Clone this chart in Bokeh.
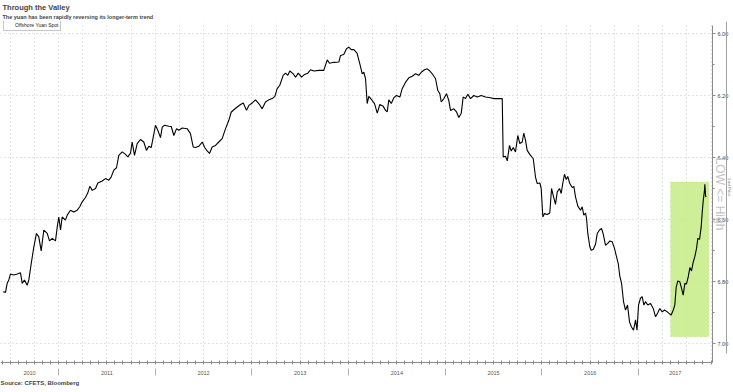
from bokeh.plotting import figure
from bokeh.models import (Range1d, FixedTicker, LinearAxis, Legend, LegendItem, Title,
                          BoxAnnotation, ColumnDataSource, NumeralTickFormatter)
from bokeh.embed import file_html
from bokeh.resources import INLINE

# ---------------- data (decimal year, CNH per USD) ----------------
years = [2010.428, 2010.452, 2010.469, 2010.486, 2010.503, 2010.538, 2010.573, 2010.607, 2010.625, 2010.648,
         2010.676, 2010.693, 2010.718, 2010.745, 2010.772, 2010.796, 2010.821, 2010.848, 2010.883, 2010.907,
         2010.935, 2010.969, 2010.987, 2011.003, 2011.021, 2011.038, 2011.072, 2011.090, 2011.124, 2011.158,
         2011.193, 2011.220, 2011.245, 2011.279, 2011.303, 2011.324, 2011.349, 2011.383, 2011.407, 2011.452,
         2011.486, 2011.520, 2011.543, 2011.572, 2011.600, 2011.624, 2011.659, 2011.693, 2011.717, 2011.745,
         2011.762, 2011.786, 2011.814, 2011.848, 2011.882, 2011.910, 2011.934, 2011.959, 2011.980, 2012.003,
         2012.027, 2012.055, 2012.073, 2012.097, 2012.141, 2012.166, 2012.193, 2012.221, 2012.244, 2012.280,
         2012.331, 2012.365, 2012.393, 2012.417, 2012.451, 2012.487, 2012.513, 2012.538, 2012.562, 2012.590,
         2012.624, 2012.658, 2012.693, 2012.728, 2012.762, 2012.786, 2012.813, 2012.849, 2012.883, 2012.911,
         2012.945, 2012.969, 2013.004, 2013.038, 2013.072, 2013.107, 2013.141, 2013.175, 2013.211, 2013.238,
         2013.262, 2013.289, 2013.324, 2013.348, 2013.372, 2013.393, 2013.428, 2013.452, 2013.480, 2013.514,
         2013.545, 2013.579, 2013.607, 2013.641, 2013.693, 2013.744, 2013.780, 2013.803, 2013.848, 2013.900,
         2013.917, 2013.951, 2013.979, 2014.003, 2014.028, 2014.055, 2014.088, 2014.117, 2014.142, 2014.158,
         2014.176, 2014.193, 2014.210, 2014.245, 2014.269, 2014.297, 2014.324, 2014.359, 2014.383, 2014.400,
         2014.417, 2014.442, 2014.469, 2014.496, 2014.531, 2014.555, 2014.590, 2014.624, 2014.659, 2014.693,
         2014.727, 2014.752, 2014.786, 2014.814, 2014.841, 2014.866, 2014.900, 2014.924, 2014.944, 2014.959,
         2014.986, 2015.014, 2015.037, 2015.055, 2015.089, 2015.117, 2015.141, 2015.166, 2015.186, 2015.210,
         2015.234, 2015.262, 2015.296, 2015.331, 2015.373, 2015.417, 2015.469, 2015.503, 2015.590, 2015.600,
         2015.624, 2015.642, 2015.665, 2015.683, 2015.704, 2015.727, 2015.751, 2015.772, 2015.797, 2015.813,
         2015.831, 2015.848, 2015.875, 2015.911, 2015.934, 2015.952, 2015.979, 2015.993, 2016.010, 2016.027,
         2016.055, 2016.082, 2016.100, 2016.117, 2016.141, 2016.159, 2016.183, 2016.200, 2016.217, 2016.234,
         2016.252, 2016.268, 2016.286, 2016.314, 2016.331, 2016.348, 2016.372, 2016.400, 2016.417, 2016.434,
         2016.452, 2016.462, 2016.475, 2016.496, 2016.510, 2016.531, 2016.555, 2016.573, 2016.596, 2016.617,
         2016.635, 2016.658, 2016.682, 2016.703, 2016.728, 2016.751, 2016.772, 2016.790, 2016.806, 2016.824,
         2016.845, 2016.865, 2016.886, 2016.907, 2016.927, 2016.948, 2016.969, 2016.984, 2017.000, 2017.020,
         2017.038, 2017.055, 2017.072, 2017.096, 2017.124, 2017.152, 2017.176, 2017.199, 2017.220, 2017.245,
         2017.269, 2017.297, 2017.324, 2017.338, 2017.359, 2017.375, 2017.390, 2017.406, 2017.427, 2017.445,
         2017.462, 2017.479, 2017.496, 2017.514, 2017.531, 2017.548, 2017.566, 2017.582, 2017.600, 2017.613,
         2017.631, 2017.648, 2017.659, 2017.669, 2017.682, 2017.686, 2017.693, 2017.698]

cnh = [6.833, 6.835, 6.806, 6.795, 6.776, 6.779, 6.776, 6.772, 6.806, 6.795,
       6.812, 6.795, 6.742, 6.688, 6.645, 6.656, 6.701, 6.634, 6.645, 6.669,
       6.661, 6.669, 6.624, 6.592, 6.634, 6.592, 6.602, 6.586, 6.570, 6.576,
       6.570, 6.559, 6.543, 6.529, 6.514, 6.493, 6.506, 6.500, 6.482, 6.476,
       6.468, 6.473, 6.464, 6.441, 6.433, 6.393, 6.382, 6.390, 6.398, 6.386,
       6.350, 6.393, 6.355, 6.342, 6.350, 6.377, 6.364, 6.368, 6.334, 6.296,
       6.312, 6.336, 6.302, 6.296, 6.299, 6.300, 6.329, 6.307, 6.312, 6.305,
       6.307, 6.323, 6.366, 6.368, 6.364, 6.350, 6.368, 6.379, 6.387, 6.366,
       6.361, 6.350, 6.339, 6.307, 6.280, 6.254, 6.246, 6.237, 6.229, 6.224,
       6.248, 6.232, 6.224, 6.214, 6.226, 6.243, 6.221, 6.214, 6.210, 6.203,
       6.178, 6.167, 6.135, 6.128, 6.135, 6.121, 6.130, 6.141, 6.128, 6.141,
       6.132, 6.128, 6.117, 6.121, 6.119, 6.119, 6.085, 6.096, 6.093, 6.092,
       6.071, 6.068, 6.049, 6.044, 6.052, 6.052, 6.063, 6.098, 6.130, 6.125,
       6.146, 6.226, 6.203, 6.216, 6.226, 6.257, 6.229, 6.235, 6.248, 6.253,
       6.214, 6.226, 6.207, 6.200, 6.205, 6.178, 6.157, 6.143, 6.138, 6.130,
       6.135, 6.125, 6.117, 6.114, 6.121, 6.130, 6.146, 6.184, 6.194, 6.221,
       6.210, 6.194, 6.216, 6.248, 6.243, 6.253, 6.271, 6.257, 6.205, 6.210,
       6.196, 6.210, 6.200, 6.205, 6.200, 6.205, 6.207, 6.210, 6.210, 6.398,
       6.396, 6.411, 6.361, 6.379, 6.368, 6.382, 6.329, 6.355, 6.350, 6.321,
       6.345, 6.377, 6.390, 6.404, 6.463, 6.484, 6.482, 6.500, 6.592, 6.581,
       6.584, 6.579, 6.500, 6.522, 6.551, 6.511, 6.500, 6.516, 6.482, 6.454,
       6.471, 6.461, 6.482, 6.497, 6.493, 6.527, 6.557, 6.570, 6.559, 6.586,
       6.579, 6.597, 6.645, 6.688, 6.699, 6.697, 6.680, 6.645, 6.634, 6.629,
       6.647, 6.683, 6.677, 6.669, 6.672, 6.693, 6.720, 6.742, 6.783, 6.805,
       6.866, 6.892, 6.876, 6.931, 6.947, 6.957, 6.924, 6.957, 6.876, 6.854,
       6.849, 6.876, 6.865, 6.876, 6.871, 6.887, 6.914, 6.901, 6.887, 6.898,
       6.892, 6.898, 6.905, 6.908, 6.892, 6.876, 6.817, 6.798, 6.801, 6.822,
       6.844, 6.806, 6.808, 6.785, 6.755, 6.766, 6.737, 6.720, 6.693, 6.661,
       6.664, 6.624, 6.576, 6.540, 6.506, 6.486, 6.522, 6.528]

year_labels = ["2010", "2011", "2012", "2013", "2014", "2015", "2016", "2017"]
year_label_pos = [2010.70, 2011.5, 2012.5, 2013.5, 2014.5, 2015.5, 2016.5, 2017.38]
year_bounds = [2011, 2012, 2013, 2014, 2015, 2016, 2017]
y_ticks = [6.0, 6.2, 6.4, 6.6, 6.8, 7.0]
y_minor = [6.1, 6.3, 6.5, 6.7, 6.9]
month_ticks = [2010 + k / 12 for k in range(5, 12 * 7 + 10)]
quarter_ticks = [2010 + k / 4 for k in range(2, 4 * 7 + 4)]

highlight_left, highlight_right = 2017.331, 2017.727
highlight_top, highlight_bottom = 6.479, 6.978

TITLE = "Through the Valley"
SUBTITLE = "The yuan has been rapidly reversing its longer-term trend"
SOURCE = "Source: CFETS, Bloomberg"
SERIES = "Offshore Yuan Spot"
DIRECTION = "LOW <= High"
SIDE_NOTE = "Last Price"

FONT = "Liberation Sans"
GRID = "#c4c4c4"
AXIS = "#8a8a8a"

# ---------------- layout (canvas pixels) ----------------
W, H = 733, 392
FT, FB = 21, 376                      # frame top / bottom (title panel above, source panel below)
PA_LEFT, PA_RIGHT, PA_TOP, PA_BOTTOM = 0, 712, 25, 362   # plotting area
X0, X1 = 2010.40, 2017.765
Y_TOP, Y_BOTTOM = 5.97419, 7.06129    # inverted value axis
xpp = (X1 - X0) / (PA_RIGHT - PA_LEFT)
ypp = (Y_BOTTOM - Y_TOP) / (PA_BOTTOM - PA_TOP)

p = figure(width=W, height=H, output_backend="svg", toolbar_location=None,
           x_range=Range1d(X0 - PA_LEFT * xpp, X1 + (W - PA_RIGHT) * xpp),
           y_range=Range1d(Y_BOTTOM + (FB - PA_BOTTOM) * ypp, Y_TOP - (PA_TOP - FT) * ypp),
           y_axis_location="right", min_border_left=0, min_border_right=0,
           min_border_top=FT, min_border_bottom=H - FB)
p.title.text = ""
p.outline_line_color = None
p.background_fill_color = "white"
p.border_fill_color = "white"

# grids
p.xgrid.ticker = FixedTicker(ticks=quarter_ticks)
p.ygrid.ticker = FixedTicker(ticks=y_ticks)
for g in (p.xgrid, p.ygrid):
    g.grid_line_color = GRID
    g.grid_line_dash = "1 3"
    g.grid_line_width = 1

# keep the grid inside the plotting area (white margins over it)
for kw in (dict(bottom=Y_TOP), dict(top=Y_BOTTOM), dict(left=X1)):
    p.add_layout(BoxAnnotation(fill_color="white", fill_alpha=1, line_color=None, level="underlay", **kw))

# highlight box
p.add_layout(BoxAnnotation(left=highlight_left, right=highlight_right, top=highlight_top,
                           bottom=highlight_bottom, fill_color="#c9ec8c", fill_alpha=0.9,
                           line_color="#a9d86a", line_dash="3 2", line_width=1, level="underlay"))

src = ColumnDataSource(dict(x=years, y=cnh))
p.line("x", "y", source=src, line_color="black", line_width=1.1)

# legend with a square swatch (thick short line)
proxy = p.line(x=[], y=[], line_color="black", line_width=6)
legend = Legend(items=[LegendItem(label=SERIES, renderers=[proxy])],
                location=(3, FB - 31), margin=0, padding=2, spacing=0,
                glyph_width=6, glyph_height=6, label_standoff=3, label_height=6,
                label_text_font=FONT, label_text_font_size="5px", label_text_color="#222222",
                border_line_color="#8f8f8f", border_line_width=1, background_fill_alpha=1)
p.add_layout(legend)

# x axis pinned to the bottom of the plotting area
xa = p.xaxis[0]
xa.fixed_location = Y_BOTTOM
xa.bounds = (X0, X1)
xa.ticker = FixedTicker(ticks=year_label_pos, minor_ticks=month_ticks)
xa.major_label_overrides = {pos: lab for pos, lab in zip(year_label_pos, year_labels)}
xa.major_tick_in = 0
xa.major_tick_out = 0
xa.minor_tick_in = 2
xa.minor_tick_out = 2
xa.axis_line_color = AXIS
xa.minor_tick_line_color = AXIS
xa.major_label_text_font = FONT
xa.major_label_text_font_size = "5.5px"
xa.major_label_text_color = "#555555"
xa.major_label_standoff = 6

# year separators: minor ticks of a label-less axis just below the x axis
xa2 = LinearAxis(ticker=FixedTicker(ticks=[], minor_ticks=year_bounds), minor_tick_in=0, minor_tick_out=7,
                 minor_tick_line_color="#b0b0b0", axis_line_color=None, major_tick_line_color=None,
                 fixed_location=Y_BOTTOM + 6 * ypp, bounds=(X0, X1))
p.add_layout(xa2, "below")

# right value axis pinned to the right edge of the plotting area
ya = p.yaxis[0]
ya.fixed_location = X1
ya.bounds = (Y_TOP, Y_BOTTOM)
ya.ticker = FixedTicker(ticks=y_ticks, minor_ticks=y_minor)
ya.formatter = NumeralTickFormatter(format="0.00")
ya.major_tick_out = 3
ya.major_tick_in = 0
ya.minor_tick_out = 2
ya.minor_tick_in = 0
ya.axis_line_color = AXIS
ya.major_tick_line_color = AXIS
ya.minor_tick_line_color = AXIS
ya.major_label_text_font = FONT
ya.major_label_text_font_size = "5.5px"
ya.major_label_text_color = "#444444"
ya.major_label_standoff = 2
ya.axis_label = DIRECTION
ya.axis_label_text_font = FONT
ya.axis_label_text_font_style = "normal"
ya.axis_label_text_font_size = "12px"
ya.axis_label_text_color = "#c4c4c4"
ya.axis_label_standoff = -18

# far-right rule with its small note
ya2 = LinearAxis(ticker=FixedTicker(ticks=[]), axis_line_color="#a0a0a0", major_tick_in=0, major_tick_out=0,
                 minor_tick_line_color=None, fixed_location=X1 + 14 * xpp,
                 bounds=(Y_TOP - 10 * ypp, Y_BOTTOM - 9 * ypp),
                 axis_label=SIDE_NOTE, axis_label_text_font=FONT, axis_label_text_font_size="4px",
                 axis_label_text_font_style="normal", axis_label_text_color="#777777",
                 axis_label_standoff=0)
p.add_layout(ya2, "right")

# titles and source
p.add_layout(Title(text=SUBTITLE, text_font=FONT, text_font_size="5.5px", text_font_style="bold",
                   align="left", offset=2, standoff=0, vertical_align="top"), "above")
p.add_layout(Title(text=TITLE, text_font=FONT, text_font_size="7.5px", text_font_style="bold",
                   align="left", offset=2, standoff=0, vertical_align="top"), "above")
p.add_layout(Title(text=SOURCE, text_font=FONT, text_font_size="6px", text_font_style="bold",
                   align="left", offset=0, standoff=6, vertical_align="top"), "below")

open("out.html", "w").write(file_html(p, INLINE))
